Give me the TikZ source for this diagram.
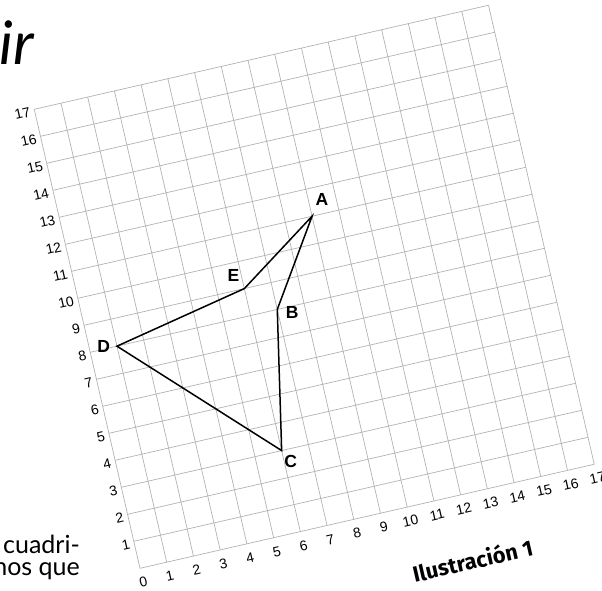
\documentclass[tikz,border=0pt]{standalone}
\usepackage{fontspec}
\setmainfont{Liberation Sans}
\newfontfamily\latofont{Lato}
\newfontfamily\firafont{Fira Sans}
\begin{document}
\begin{tikzpicture}[x=1pt,y=1pt,
  gridline/.style={draw=black!30, line width=0.7pt},
  poly/.style={draw=black, line width=1.5pt, line join=miter},
  vlab/.style={font=\fontsize{17.5}{17.5}\selectfont\bfseries, inner sep=0pt},
  xnum/.style={font=\fontsize{14}{14}\selectfont, rotate=12.9, inner sep=0pt},
  ynum/.style={font=\fontsize{14}{14}\selectfont, rotate=12.9, inner sep=0pt, anchor=east},
  bodytext/.style={font=\latofont\fontsize{25}{25}\selectfont, inner sep=0pt, anchor=base east}]
\useasboundingbox (0,0) rectangle (602,590);
\begin{scope}[shift={(140,21.7)}, x={(26.72pt,6.12pt)}, y={(-6.22pt,27.0pt)}]
  \foreach \k in {0,...,17} {
    \draw[gridline] (\k,0) -- (\k,17);
    \draw[gridline] (0,\k) -- (17,\k);
  }
  \foreach \i in {0,...,17} \node[xnum] (x\i) at (\i,-0.52) {\i};
  \foreach \j in {1,...,17} \node[ynum] (y\j) at (-0.16,\j-0.05) {\j};
  \coordinate (A) at (9,11);
  \coordinate (B) at (7,8);
  \coordinate (C) at (6,3);
  \coordinate (D) at (1,8);
  \coordinate (E) at (6,9);
  \draw[poly] (D) -- (E) -- (A) -- (B) -- (C) -- cycle;
\end{scope}
\node[vlab] (lA) at ([shift={(10,16.6)}]A) {A};
\node[vlab] (lB) at ([shift={(15,-3.4)}]B) {B};
\node[vlab] (lC) at ([shift={(9,-10.7)}]C) {C};
\node[vlab] (lD) at ([shift={(-13.3,0)}]D) {D};
\node[vlab] (lE) at ([shift={(-11,13.3)}]E) {E};
\node[anchor=base, rotate=12.9, inner sep=0pt, font=\firafont\fontsize{22}{22}\selectfont\bfseries] (ilu) at (474.5,21) {Ilustración 1};
\node[anchor=base west, inner sep=0pt, font=\latofont\itshape\fontsize{60}{60}\selectfont] (title) at (-1,525) {ir};
\node[bodytext] (t1) at (80,37) {cuadri-};
\node[bodytext] (t2) at (80,15) {nos que};
\end{tikzpicture}
\end{document}
